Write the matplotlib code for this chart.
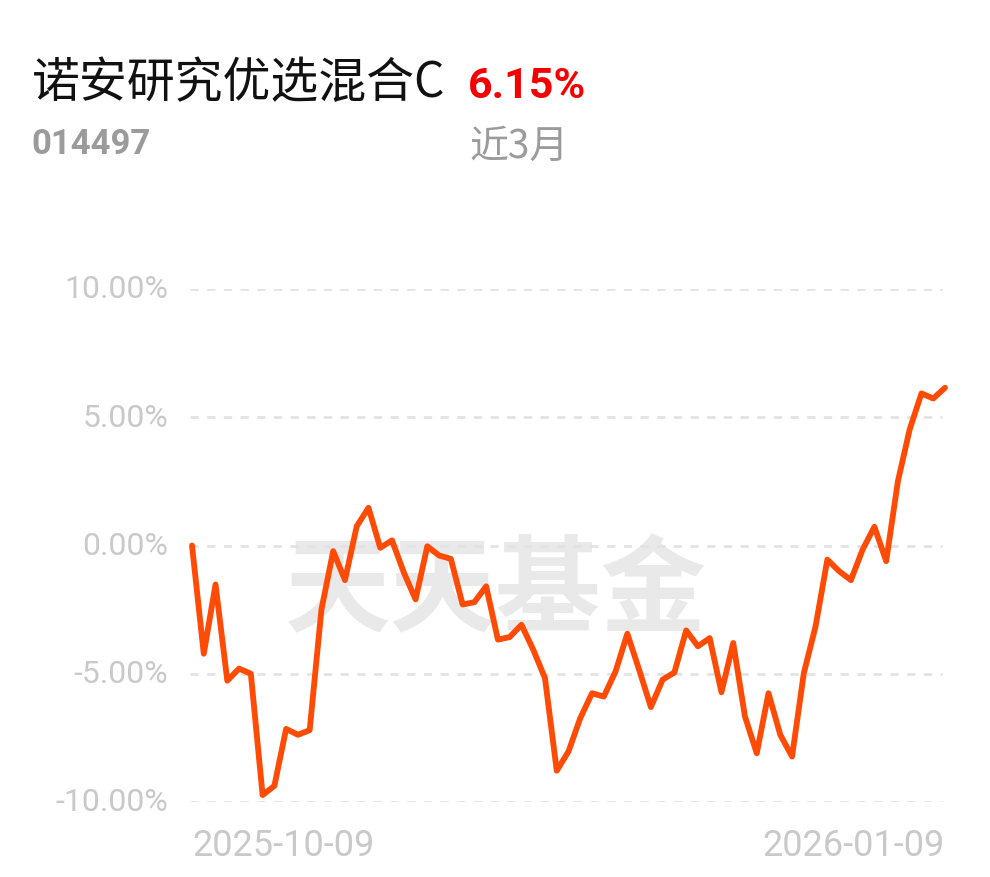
import matplotlib
matplotlib.use("Agg")
import matplotlib.pyplot as plt
import numpy as np

# fund info
fund_name = "诺安研究优选混合C"
fund_code = "014497"
period_return = "6.15%"
period_label = "近3月"
watermark = "天天基金"

# cumulative return (%) per trading day
returns = [0.0, -4.22, -1.52, -5.27, -4.80, -5.00, -9.73, -9.37, -7.15, -7.38,
           -7.20, -2.50, -0.22, -1.35, 0.75, 1.47, -0.09, 0.20, -1.05, -2.10,
           -0.03, -0.39, -0.52, -2.30, -2.21, -1.59, -3.67, -3.57, -3.09, -4.06,
           -5.17, -8.78, -8.03, -6.73, -5.76, -5.89, -4.91, -3.44, -4.84, -6.30,
           -5.23, -4.95, -3.31, -3.93, -3.61, -5.72, -3.80, -6.67, -8.10, -5.76,
           -7.38, -8.23, -4.98, -3.15, -0.55, -1.00, -1.35, -0.16, 0.73, -0.61,
           2.51, 4.53, 5.93, 5.73, 6.15]
start_date = "2025-10-09"
end_date = "2026-01-09"
y_ticks = [-10, -5, 0, 5, 10]

W, H = 990, 878
fig = plt.figure(figsize=(W / 100, H / 100), dpi=100)
fig.patch.set_facecolor("white")

# axes placed in pixel terms
ax_l, ax_r, ax_top, ax_bot = 190, 946, 290, 803
ax = fig.add_axes([ax_l / W, (H - ax_bot) / H, (ax_r - ax_l) / W, (ax_bot - ax_top) / H])

x = np.arange(len(returns))
step = 753 / (len(returns) - 1)
ax.set_xlim(-2 / step, len(returns) - 1 + 1 / step)
ax.set_ylim(-10, 10)

for v in y_ticks:
    ax.axhline(v, color="#E3E3E3", lw=2, ls=(0, (3, 3)), zorder=1, xmax=0.995)

# watermark behind the line
ax.text(0.405, 0.41, watermark, transform=ax.transAxes,
        family=["Noto Sans CJK SC"], fontweight="black", fontsize=76,
        color="#E9E9E9", ha="center", va="center", zorder=0)

ax.plot(x, returns, color="#FF4B05", lw=4.2, solid_joinstyle="round",
        solid_capstyle="round", zorder=3, clip_on=False)

for s in ax.spines.values():
    s.set_visible(False)
ax.set_xticks([])
ax.set_yticks([])

tick_font = dict(family=["Roboto", "DejaVu Sans"], color="#C9C9C9")
for v in y_ticks:
    ax.text(-0.029, v, f"{v:.2f}%", transform=ax.get_yaxis_transform(),
            ha="right", va="center", fontsize=23, **tick_font)

ax.text(0, -0.048, start_date, transform=ax.get_xaxis_transform(),
        ha="left", va="top", fontsize=26, **tick_font)
ax.text(len(returns) - 1, -0.048, end_date, transform=ax.get_xaxis_transform(),
        ha="right", va="top", fontsize=26, **tick_font)

# header
fig.text(32 / W, 1 - 83 / H, fund_name, family=["Noto Sans CJK SC", "DejaVu Sans"],
         fontsize=34.5, color="#111111", ha="left", va="center")
fig.text(468 / W, 1 - 86 / H, period_return, family=["Roboto", "DejaVu Sans"],
         fontweight="bold", fontsize=31, color="#F50000", ha="left", va="center")
fig.text(31 / W, 1 - 145 / H, fund_code, family=["Roboto", "DejaVu Sans"],
         fontweight="bold", fontsize=25, color="#9B9B9B", ha="left", va="center")
fig.text(469 / W, 1 - 147 / H, period_label, family=["Noto Sans CJK SC", "DejaVu Sans"],
         fontsize=28, color="#9B9B9B", ha="left", va="center")

fig.savefig("out.png", dpi=100, facecolor="white")
